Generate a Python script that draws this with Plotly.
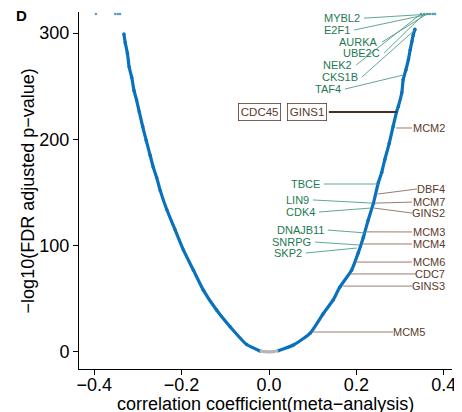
import plotly.graph_objects as go

# ---- data ----
left_r = [-0.021, -0.051, -0.089, -0.120, -0.150, -0.173, -0.196, -0.215, -0.234, -0.249,
          -0.257, -0.265, -0.272, -0.281, -0.289, -0.297, -0.303, -0.309, -0.314, -0.320,
          -0.324, -0.329, -0.332]
left_v = [1.0, 7.0, 23.8, 39.5, 58, 77, 96, 115, 134, 152,
          164, 174, 185, 199, 212, 226, 237, 246, 258, 268,
          281, 291, 299]
right_r = [0.021, 0.056, 0.094, 0.124, 0.147, 0.162, 0.189, 0.204, 0.216, 0.227,
           0.239, 0.250, 0.258, 0.265, 0.275, 0.284, 0.292, 0.296, 0.304, 0.307,
           0.313, 0.319, 0.323, 0.327, 0.330, 0.334]
right_v = [1.2, 6.6, 17.6, 36, 49, 61, 77, 93, 108, 124,
           140, 159, 169, 181, 196, 212, 226, 231, 244, 256,
           265, 275, 284, 292, 298, 303.5]
top_r = [-0.396, -0.352, -0.346, -0.341, 0.348, 0.355, 0.362, 0.368, 0.375, 0.380]
top_v = [318, 318, 318, 318, 318, 318, 318, 318, 318, 318]
ns_r = [-0.021, -0.010, 0.0, 0.010, 0.021]
ns_v = [1.0, 0.4, 0.1, 0.4, 1.2]

# labelled genes (point on the curve)
green_genes = ["MYBL2", "E2F1", "AURKA", "UBE2C", "NEK2", "CKS1B", "TAF4",
               "TBCE", "LIN9", "CDK4", "DNAJB11", "SNRPG", "SKP2"]
green_r = [0.375, 0.368, 0.362, 0.355, 0.348, 0.334, 0.307,
           0.252, 0.238, 0.233, 0.220, 0.208, 0.201]
green_v = [318, 318, 318, 318, 318, 303, 260.5,
           158, 140, 135.4, 112, 100.6, 97.8]
brown_genes = ["MCM2", "DBF4", "MCM7", "GINS2", "MCM3", "MCM4", "MCM6", "CDC7", "GINS3", "MCM5"]
brown_r = [0.291, 0.249, 0.243, 0.240, 0.224, 0.213, 0.197, 0.185, 0.169, 0.098]
brown_v = [210.7, 148.6, 140, 135.4, 113, 101.6, 84.6, 73.4, 62, 18.8]
boxed_genes = ["CDC45", "GINS1"]
boxed_r = [0.293, 0.293]
boxed_v = [225.7, 225.7]

x_title = "correlation coefficient(meta\u2212analysis)"
y_title = "\u2212log10(FDR adjusted p\u2212value)"
x_tickvals = [-0.4, -0.2, 0.0, 0.2, 0.4]
x_ticktext = ["\u22120.4", "\u22120.2", "0.0", "0.2", "0.4"]
y_tickvals = [0, 100, 200, 300]

# ---- label layout (positions of texts) ----
green_lx = [0.213, 0.190, 0.254, 0.259, 0.195, 0.208, 0.169,
            0.121, 0.096, 0.110, 0.130, 0.101, 0.080]
green_ly = [314, 302.8, 291.5, 281.2, 270, 258.6, 247.3,
            158, 143, 131.7, 114.7, 103.4, 93.1]
brown_lx = [0.4073, 0.4073, 0.4073, 0.4073, 0.4073, 0.4073, 0.4073, 0.4073, 0.4073, 0.3616]
brown_seg_x = [0.3272, 0.3387, 0.3272, 0.3272, 0.3272, 0.3272, 0.3272, 0.3364, 0.3272, 0.2838]
brown_ly = [210.7, 153.3, 141, 130.7, 112.9, 101.6, 84.6, 73.4, 62, 18.8]
boxed_lx = [-0.021, 0.088]
boxed_ly = [225.7, 225.7]
boxed_seg_x0 = 0.137

BLUE = "#0a71bd"
GREEN_T = "#1d7a50"
GREEN_L = "#4f9e80"
BROWN_T = "#5a3a2a"
BROWN_L = "#8c6e60"
FONT = "Liberation Sans, Arial, Helvetica, sans-serif"

fig = go.Figure()
for xs, ys in [(left_r, left_v), (right_r, right_v)]:
    fig.add_trace(go.Scatter(x=xs, y=ys, mode="lines+markers",
                             line=dict(color=BLUE, width=3.2, shape="spline", smoothing=0.5),
                             marker=dict(color=BLUE, size=3.5),
                             hoverinfo="skip", showlegend=False))
fig.add_trace(go.Scatter(x=top_r, y=top_v, mode="markers",
                         marker=dict(color=BLUE, size=2.5, opacity=0.7),
                         hoverinfo="skip", showlegend=False))
fig.add_trace(go.Scatter(x=ns_r, y=ns_v, mode="lines",
                         line=dict(color="#b5b5b5", width=3.2, shape="spline"),
                         hoverinfo="skip", showlegend=False))

shapes = []
annots = []
dx = 2 / 437.0
for g, r, v, lx, ly in zip(green_genes, green_r, green_v, green_lx, green_ly):
    shapes.append(dict(type="line", xref="x", yref="y", x0=lx + dx, y0=ly, x1=r, y1=v,
                       line=dict(color=GREEN_L, width=0.9)))
    annots.append(dict(x=lx, y=ly, xref="x", yref="y", text=g, showarrow=False,
                       xanchor="right", yanchor="middle",
                       font=dict(family=FONT, size=11, color=GREEN_T)))
for g, r, v, lx, sx, ly in zip(brown_genes, brown_r, brown_v, brown_lx, brown_seg_x, brown_ly):
    shapes.append(dict(type="line", xref="x", yref="y", x0=sx, y0=ly, x1=r, y1=v,
                       line=dict(color=BROWN_L, width=0.9)))
    annots.append(dict(x=lx, y=ly, xref="x", yref="y", text=g, showarrow=False,
                       xanchor="right", yanchor="middle",
                       font=dict(family=FONT, size=11, color=BROWN_T)))
shapes.append(dict(type="line", xref="x", yref="y", x0=boxed_seg_x0, y0=boxed_ly[1],
                   x1=boxed_r[1], y1=boxed_v[1], line=dict(color="#4a2e22", width=2)))
for g, lx, ly in zip(boxed_genes, boxed_lx, boxed_ly):
    annots.append(dict(x=lx, y=ly, xref="x", yref="y", text=g, showarrow=False,
                       xanchor="center", yanchor="middle",
                       bgcolor="white", bordercolor=BROWN_T, borderwidth=0.8, borderpad=2,
                       font=dict(family=FONT, size=11.5, color=BROWN_T)))
annots.append(dict(x=-0.153, y=0.9888, xref="paper", yref="paper", text="<b>D</b>",
                   showarrow=False, xanchor="center", yanchor="middle",
                   font=dict(family=FONT, size=15, color="black")))
# axis titles as paper-anchored annotations
annots.append(dict(x=0.5, y=-0.098, xref="paper", yref="paper", text=x_title,
                   showarrow=False, xanchor="center", yanchor="middle",
                   font=dict(family=FONT, size=18, color="black")))
annots.append(dict(x=-0.137, y=0.5, xref="paper", yref="paper", text=y_title,
                   showarrow=False, xanchor="center", yanchor="middle", textangle=-90,
                   font=dict(family=FONT, size=18, color="black")))

# page has an 8px body margin, so the figure is 8px smaller and margins shifted
fig.update_layout(
    width=454, height=404,
    margin=dict(l=71, r=10, t=4, b=43),
    paper_bgcolor="white", plot_bgcolor="white",
    font=dict(family=FONT, size=18, color="black"),
    shapes=shapes, annotations=annots,
    showlegend=False,
)
fig.update_xaxes(range=[-0.4348, 0.4188], tickvals=x_tickvals, ticktext=x_ticktext,
                 showline=True, linecolor="black", linewidth=1, ticks="outside",
                 ticklen=5, tickcolor="black", showgrid=False, zeroline=False,
                 tickfont=dict(size=18, color="black"), ticklabelstandoff=-6,
                 automargin=False)
fig.update_yaxes(range=[-16.0, 319.8], tickvals=y_tickvals,
                 showline=True, linecolor="black", linewidth=1, ticks="outside",
                 ticklen=5, tickcolor="black", showgrid=False, zeroline=False,
                 tickfont=dict(size=18, color="black"),
                 automargin=False)

fig.write_html("out.html")
